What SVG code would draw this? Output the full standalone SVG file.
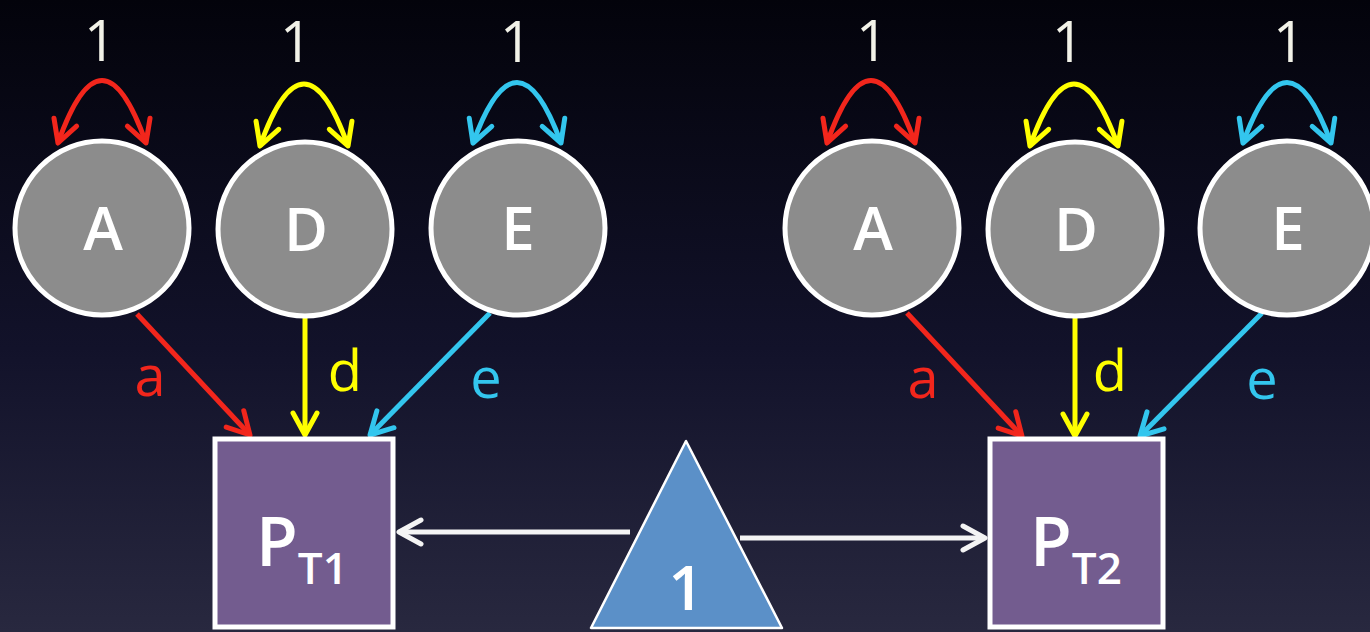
<svg xmlns="http://www.w3.org/2000/svg" width="1370" height="632" viewBox="0 0 1370 632">
  <defs>
    <linearGradient id="bg" x1="0" y1="0" x2="0" y2="1">
      <stop offset="0" stop-color="#03030b"/>
      <stop offset="0.55" stop-color="#12122a"/>
      <stop offset="1" stop-color="#28283f"/>
    </linearGradient>
    <marker id="mRed" viewBox="0 0 30 30" refX="27" refY="15" markerWidth="30" markerHeight="30" markerUnits="userSpaceOnUse" orient="auto-start-reverse">
      <path d="M5,3 L27,15 L5,27" fill="none" stroke="#f2261c" stroke-width="5" stroke-linecap="round" stroke-linejoin="round"/>
    </marker>
    <marker id="mYel" viewBox="0 0 30 30" refX="27" refY="15" markerWidth="30" markerHeight="30" markerUnits="userSpaceOnUse" orient="auto-start-reverse">
      <path d="M5,3 L27,15 L5,27" fill="none" stroke="#ffff00" stroke-width="5" stroke-linecap="round" stroke-linejoin="round"/>
    </marker>
    <marker id="mCyan" viewBox="0 0 30 30" refX="27" refY="15" markerWidth="30" markerHeight="30" markerUnits="userSpaceOnUse" orient="auto-start-reverse">
      <path d="M5,3 L27,15 L5,27" fill="none" stroke="#33c6ee" stroke-width="5" stroke-linecap="round" stroke-linejoin="round"/>
    </marker>
    <marker id="mWhite" viewBox="0 0 30 30" refX="27" refY="15" markerWidth="30" markerHeight="30" markerUnits="userSpaceOnUse" orient="auto-start-reverse">
      <path d="M5,3 L27,15 L5,27" fill="none" stroke="#f4f4f4" stroke-width="5" stroke-linecap="round" stroke-linejoin="round"/>
    </marker>
  </defs>
  <style>
    .latent circle { fill: #8c8c8c; stroke: #ffffff; stroke-width: 5; }
    .latent text { fill: #ffffff; font-family: "Open Sans", "Liberation Sans", sans-serif; font-weight: 600; font-size: 60px; text-anchor: middle; }
    .obs rect { fill: #735c8f; stroke: #ffffff; stroke-width: 5; }
    .obs text { fill: #ffffff; font-family: "Open Sans", "Liberation Sans", sans-serif; font-weight: 600; }
    .one { fill: #f2f2e8; font-family: "Open Sans", "Liberation Sans", sans-serif; font-size: 56px; text-anchor: middle; }
    .lbl { font-family: "Open Sans", "Liberation Sans", sans-serif; font-size: 56px; text-anchor: middle; }
    .red { stroke: #f2261c; }
    .yel { stroke: #ffff00; }
    .cyan { stroke: #33c6ee; }
    .wht { stroke: #f4f4f4; }
    #connectors path, #connectors line { fill: none; stroke-width: 5; }
  </style>

  <rect x="0" y="0" width="1370" height="632" fill="url(#bg)"/>

  <!-- connectors: variances, paths, means -->
  <g id="connectors">
    <!-- variance loops, twin 1 -->
    <path class="red" d="M58,143 Q102,18 146,143" marker-start="url(#mRed)" marker-end="url(#mRed)"/>
    <path class="yel" d="M260,146 Q304,22 348,146" marker-start="url(#mYel)" marker-end="url(#mYel)"/>
    <path class="cyan" d="M473,143 Q517,22 561,143" marker-start="url(#mCyan)" marker-end="url(#mCyan)"/>
    <!-- variance loops, twin 2 -->
    <path class="red" d="M827,143 Q871,18 915,143" marker-start="url(#mRed)" marker-end="url(#mRed)"/>
    <path class="yel" d="M1030,146 Q1074,22 1118,146" marker-start="url(#mYel)" marker-end="url(#mYel)"/>
    <path class="cyan" d="M1243,143 Q1287,22 1331,143" marker-start="url(#mCyan)" marker-end="url(#mCyan)"/>

    <!-- paths to P_T1 -->
    <line class="red" x1="137" y1="314" x2="250" y2="435" marker-end="url(#mRed)"/>
    <line class="yel" x1="305" y1="318" x2="305" y2="435" marker-end="url(#mYel)"/>
    <line class="cyan" x1="490" y1="313" x2="370" y2="435" marker-end="url(#mCyan)"/>
    <!-- paths to P_T2 -->
    <line class="red" x1="907" y1="313" x2="1022" y2="436" marker-end="url(#mRed)"/>
    <line class="yel" x1="1075" y1="318" x2="1075" y2="436" marker-end="url(#mYel)"/>
    <line class="cyan" x1="1262" y1="313" x2="1140" y2="436" marker-end="url(#mCyan)"/>

    <!-- means -->
    <line class="wht" x1="630" y1="532" x2="399" y2="532" marker-end="url(#mWhite)"/>
    <line class="wht" x1="740" y1="538" x2="985" y2="538" marker-end="url(#mWhite)"/>
  </g>

  <!-- variance values -->
  <g id="variance-labels">
    <text class="one" x="100" y="61">1</text>
    <text class="one" x="296" y="62">1</text>
    <text class="one" x="516" y="62">1</text>
    <text class="one" x="872" y="61">1</text>
    <text class="one" x="1068" y="62">1</text>
    <text class="one" x="1289" y="62">1</text>
  </g>

  <!-- path labels -->
  <g id="path-labels">
    <text class="lbl" x="150" y="396" fill="#f2261c">a</text>
    <text class="lbl" x="345" y="391" fill="#ffff00">d</text>
    <text class="lbl" x="486" y="398" fill="#33c6ee">e</text>
    <text class="lbl" x="923" y="398" fill="#f2261c">a</text>
    <text class="lbl" x="1110" y="391" fill="#ffff00">d</text>
    <text class="lbl" x="1262" y="399" fill="#33c6ee">e</text>
  </g>

  <!-- latent factors, twin 1 -->
  <g id="A1" class="latent"><circle cx="102" cy="228" r="87"/><text x="103" y="250">A</text></g>
  <g id="D1" class="latent"><circle cx="305" cy="229" r="87"/><text x="306" y="251">D</text></g>
  <g id="E1" class="latent"><circle cx="518" cy="228" r="87"/><text x="518" y="250">E</text></g>
  <!-- latent factors, twin 2 -->
  <g id="A2" class="latent"><circle cx="872" cy="228" r="87"/><text x="873" y="250">A</text></g>
  <g id="D2" class="latent"><circle cx="1075" cy="229" r="87"/><text x="1076" y="251">D</text></g>
  <g id="E2" class="latent"><circle cx="1287" cy="228" r="87"/><text x="1288" y="250">E</text></g>

  <!-- observed phenotypes -->
  <g id="PT1" class="obs">
    <rect x="215" y="439" width="178" height="188"/>
    <text x="256" y="566" font-size="68">P<tspan font-size="44" dy="18">T1</tspan></text>
  </g>
  <g id="PT2" class="obs">
    <rect x="990" y="439" width="173" height="188"/>
    <text x="1030" y="566" font-size="68">P<tspan font-size="44" dy="18">T2</tspan></text>
  </g>

  <!-- mean constant -->
  <g id="mean">
    <polygon points="686,441 591,628 782,628" fill="#5b90c8" stroke="#ffffff" stroke-width="2.5" stroke-linejoin="round"/>
    <text x="686" y="610" fill="#ffffff" font-family="'Open Sans', 'Liberation Sans', sans-serif" font-weight="600" font-size="62" text-anchor="middle">1</text>
  </g>
</svg>
